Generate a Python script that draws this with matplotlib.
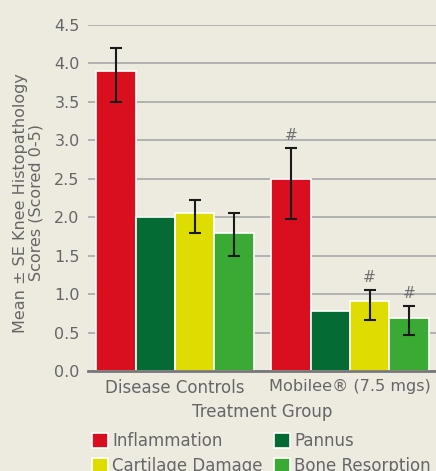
import matplotlib.pyplot as plt
import numpy as np

groups = ['Disease Controls', 'Mobilee® (7.5 mgs)']
series = ['Inflammation', 'Pannus', 'Cartilage Damage', 'Bone Resorption']
colors = ['#d90f20', '#056b35', '#dedc00', '#3aaa35']

means = [[3.9, 2.5],
         [2.0, 0.78],
         [2.05, 0.91],
         [1.79, 0.69]]
err_low = [[3.5, 1.98],
           [None, None],
           [1.8, 0.66],
           [1.49, 0.47]]
err_high = [[4.2, 2.9],
            [None, None],
            [2.23, 1.05],
            [2.05, 0.84]]
signif = [[False, True],
          [False, False],
          [False, True],
          [False, True]]

bg = '#edeadf'
txt = '#666666'

fig = plt.figure(figsize=(4.36, 4.71), dpi=100, facecolor=bg)
ax = fig.add_axes([88/436, 1-371/471, 348/436, 346/471], facecolor=bg)

centers = np.array([0, 4.45])
offsets = [-1.5, -0.5, 0.5, 1.5]
bars = []
for i, name in enumerate(series):
    xs = centers + offsets[i]
    b = ax.bar(xs, means[i], width=1.0, color=colors[i], edgecolor='white',
               linewidth=1.2, label=name, zorder=3)
    bars.append(b)
    for j in range(2):
        if err_low[i][j] is None:
            continue
        lo = means[i][j] - err_low[i][j]
        hi = err_high[i][j] - means[i][j]
        ax.errorbar(xs[j], means[i][j], yerr=[[lo], [hi]], fmt='none',
                    ecolor='#1a1a1a', elinewidth=1.5, capsize=4, capthick=1.5, zorder=4)
        if signif[i][j]:
            ax.text(xs[j], err_high[i][j] + 0.07, '#', ha='center', va='bottom',
                    color='#707070', fontsize=11, zorder=5)

ax.set_ylim(0, 4.5)
ax.set_xlim(-2.21, 6.64)
ax.set_yticks(np.arange(0, 4.51, 0.5))
ax.set_yticklabels(['%.1f' % v for v in np.arange(0, 4.51, 0.5)])
ax.set_xticks(centers)
ax.set_xticklabels(groups)
ax.yaxis.grid(True, color='#a8a8a8', linewidth=1.2, zorder=0)
ax.set_axisbelow(True)
for s in ['top', 'right', 'left']:
    ax.spines[s].set_visible(False)
ax.spines['bottom'].set_color('#777777')
ax.spines['bottom'].set_linewidth(2)
ax.spines['bottom'].set_zorder(5)
ax.tick_params(axis='both', length=0, colors=txt)
ax.tick_params(axis='y', pad=6, labelsize=11.5)
ax.tick_params(axis='x', pad=6, labelsize=12)
ax.get_xticklabels()[1].set_fontsize(11.6)
ax.set_xlabel('Treatment Group', fontsize=12, color=txt, labelpad=4)
ax.set_ylabel('Mean ± SE Knee Histopathology\nScores (Scored 0-5)', fontsize=11.5,
              color=txt, linespacing=1.05)
ax.yaxis.set_label_coords(-0.128, 0.486)

handles = [bars[0], bars[2], bars[1], bars[3]]
labels = [series[0], series[2], series[1], series[3]]
leg = fig.legend(handles, labels, ncol=2, loc='upper left',
                 bbox_to_anchor=(92/436, 1-432/471), frameon=False,
                 fontsize=12, handlelength=0.95, handleheight=1.0,
                 handletextpad=0.25, columnspacing=0.7, labelspacing=0.4,
                 borderaxespad=0, borderpad=0)
for t in leg.get_texts():
    t.set_color(txt)

fig.savefig('out.png', dpi=100, facecolor=bg)
